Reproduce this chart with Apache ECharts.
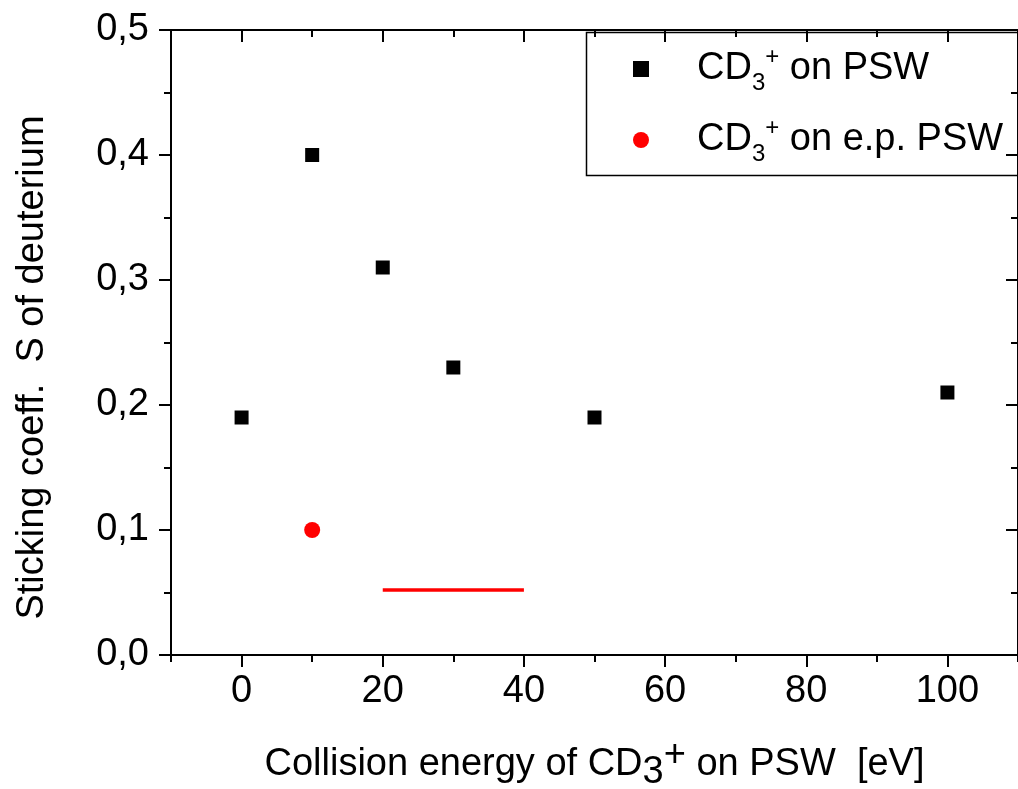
<!DOCTYPE html>
<html>
<head>
<meta charset="utf-8">
<script src="https://cdn.jsdelivr.net/npm/echarts@6/dist/echarts.min.js"></script>
<style>
  html, body { margin: 0; padding: 0; background: #fff; }
  #main { width: 1018px; height: 789px; }
</style>
</head>
<body>
<div id="main"></div>
<script>
  // collision energy [eV] vs sticking coefficient
  var energyPSW = [0, 10, 20, 30, 50, 100];
  var stickPSW = [0.19, 0.40, 0.31, 0.23, 0.19, 0.21];
  var energyEP = [10];
  var stickEP = [0.10];
  // red bar marking the e.p. PSW range
  var rangeX = [20, 40];
  var rangeY = 0.052;
  // tick positions on the energy axis
  var majorX = [0, 20, 40, 60, 80, 100];
  var minorX = [-10, 10, 30, 50, 70, 90, 110];

  var font = 'Liberation Sans, Arial, sans-serif';
  var fs = 38;
  var rich = {
    g: { fontSize: fs, fontFamily: font, width: 43 },
    a: { fontSize: fs, fontFamily: font, color: '#000' },
    sub: { fontSize: 24, fontFamily: font, color: '#000', padding: [28, 0, 0, 0] },
    sup: { fontSize: 24, fontFamily: font, color: '#000', padding: [0, 0, 24, 0] }
  };

  var chart = echarts.init(document.getElementById('main'));
  var comma = function (v) { return v.toFixed(1).replace('.', ','); };
  var black = { color: '#000', width: 2 };

  var gridBox = { left: 171, top: 30, width: 847, height: 625, outerBoundsMode: 'none', containLabel: false };

  var option = {
    backgroundColor: '#fff',
    animation: false,
    grid: [gridBox, gridBox],
    legend: {
      orient: 'vertical',
      left: 628,
      top: 40,
      itemGap: 21,
      itemWidth: 16,
      itemHeight: 16,
      textStyle: { rich: rich },
      formatter: function (name) {
        return name === 'psw'
          ? '{g| }{a|CD}{sub|3}{sup|+}{a| on PSW}'
          : '{g| }{a|CD}{sub|3}{sup|+}{a| on e.p. PSW}';
      },
      data: ['psw', 'ep']
    },
    xAxis: [{
      gridIndex: 0, type: 'value', min: -10, max: 110, interval: 10, position: 'bottom',
      axisLine: { onZero: false, lineStyle: black },
      axisTick: { length: 12, lineStyle: black, customValues: majorX },
      splitLine: { show: false },
      axisLabel: { fontSize: fs, fontFamily: font, color: '#000', margin: 18, customValues: majorX },
      name: '{a|Collision energy of CD}{b|3}{c|+}{a| on PSW  [eV]}',
      nameLocation: 'middle', nameGap: 82,
      nameTextStyle: { rich: {
        a: { fontSize: fs, fontFamily: font, color: '#000' },
        b: { fontSize: fs, fontFamily: font, color: '#000', padding: [16, 0, 0, 0] },
        c: { fontSize: fs, fontFamily: font, color: '#000', padding: [0, 0, 18, 0] }
      } }
    }, {
      gridIndex: 0, type: 'value', min: -10, max: 110, interval: 10, position: 'top',
      axisLine: { onZero: false, lineStyle: black },
      axisTick: { inside: true, length: 12, lineStyle: black, customValues: majorX },
      splitLine: { show: false },
      axisLabel: { show: false }
    }, {
      gridIndex: 1, type: 'value', min: -10, max: 110, interval: 10, position: 'bottom',
      axisLine: { show: false, onZero: false },
      axisTick: { length: 7, lineStyle: black, customValues: minorX },
      splitLine: { show: false },
      axisLabel: { show: false }
    }, {
      gridIndex: 1, type: 'value', min: -10, max: 110, interval: 10, position: 'top',
      axisLine: { show: false, onZero: false },
      axisTick: { inside: true, length: 7, lineStyle: black, customValues: minorX },
      splitLine: { show: false },
      axisLabel: { show: false }
    }],
    yAxis: [{
      gridIndex: 0, type: 'value', min: 0, max: 0.5, interval: 0.1, position: 'left',
      axisLine: { show: true, onZero: false, lineStyle: black },
      axisTick: { show: true, length: 12, lineStyle: black },
      minorTick: { show: true, splitNumber: 2, length: 7, lineStyle: black },
      splitLine: { show: false },
      axisLabel: { fontSize: fs, fontFamily: font, color: '#000', margin: 22, formatter: comma },
      name: 'Sticking coeff.  S of deuterium',
      nameLocation: 'middle', nameGap: 119, nameRotate: 90,
      nameTextStyle: { fontSize: fs, fontFamily: font, color: '#000', padding: [0, 50, 0, 0] }
    }, {
      gridIndex: 0, type: 'value', min: 0, max: 0.5, interval: 0.1, position: 'right',
      axisLine: { show: true, onZero: false, lineStyle: black },
      axisTick: { show: true, inside: true, length: 12, lineStyle: black },
      minorTick: { show: true, splitNumber: 2, length: 7, lineStyle: black },
      splitLine: { show: false },
      axisLabel: { show: false }
    }, {
      gridIndex: 1, type: 'value', min: 0, max: 0.5, show: false
    }],
    graphic: [{
      type: 'rect', left: 584, top: 30,
      shape: { width: 440, height: 143 },
      style: { fill: 'none', stroke: '#000', lineWidth: 1.5 },
      z: 0
    }],
    series: [{
      name: 'psw', type: 'scatter', symbol: 'rect', symbolSize: 14,
      itemStyle: { color: '#000', opacity: 1 },
      data: energyPSW.map(function (x, i) { return [x, stickPSW[i]]; })
    }, {
      name: 'ep', type: 'scatter', symbol: 'circle', symbolSize: 16,
      itemStyle: { color: '#f00', opacity: 1 },
      data: energyEP.map(function (x, i) { return [x, stickEP[i]]; })
    }, {
      name: 'range', type: 'line', showSymbol: false, symbol: 'none',
      lineStyle: { color: '#f00', width: 3.5 },
      data: rangeX.map(function (x) { return [x, rangeY]; })
    }]
  };
  chart.setOption(option);
</script>
</body>
</html>
